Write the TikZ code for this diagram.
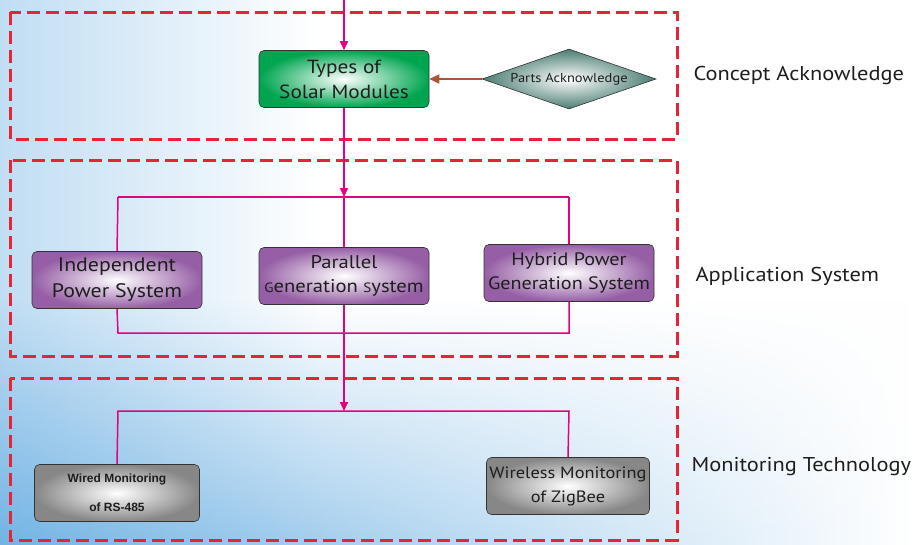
\documentclass[tikz,border=0pt]{standalone}
\usepackage{fontspec}
\setmainfont{PT Sans}[FakeStretch=1.12]
\newfontfamily\arialn{Liberation Sans}
\usetikzlibrary{shapes.geometric,arrows.meta,fadings}
\definecolor{dashred}{RGB}{230,35,55}
\definecolor{mag}{RGB}{228,0,127}
\definecolor{brn}{RGB}{170,85,55}
\definecolor{grn}{RGB}{0,165,80}
\definecolor{pur}{RGB}{150,95,165}
\definecolor{gry}{RGB}{135,135,135}
\definecolor{teal2}{RGB}{75,125,115}
\definecolor{bgblue}{RGB}{115,180,228}
\definecolor{txt}{RGB}{30,30,30}
\tikzset{
  grp/.style={draw=dashred, line width=3pt, dash pattern=on 13pt off 6pt},
  wire/.style={draw=mag, line width=1.5pt},
  arr/.style={wire, -{Triangle[length=9pt,width=8pt]}},
  boxbase/.style={draw=black!80, line width=0.6pt, rounded corners=5pt, minimum width=170pt, minimum height=57pt, align=center, inner sep=2pt, shading=radial, text=txt},
  gbox/.style={boxbase, inner color=white, outer color=grn, font=\fontsize{19}{25}\selectfont},
  pbox/.style={boxbase, inner color=white, outer color=pur},
  sbox/.style={boxbase, inner color=white, outer color=gry, minimum width=165pt},
  lab/.style={font=\fontsize{20}{24}\selectfont, anchor=west, text=txt},
}
\begin{document}
\begin{tikzpicture}[x=1pt,y=-1pt]
\useasboundingbox (0,0) rectangle (915,544);
% background
\fill[white] (0,0) rectangle (915,544);
\shade[left color=bgblue!45, right color=white] (0,0) rectangle (320,544);
\shade[left color=bgblue, right color=white, path fading=north] (0,300) rectangle (915,544);
% groups
\draw[grp] (10,12) rectangle (677,139);
\draw[grp] (10,160) rectangle (677,356);
\draw[grp] (10,378) rectangle (677,540);
% nodes
\node[gbox] (tsm) at (344,79) {Types of\\Solar Modules};
\node[diamond, draw=black!80, line width=0.6pt, shading=radial, inner color=white, outer color=teal2, minimum width=174pt, minimum height=60pt, aspect=2.9, inner sep=0pt, text=txt, font=\fontsize{12.9}{14}\selectfont] (pa) at (569,79) {Parts Acknowledge};
\node[pbox, font=\fontsize{19.5}{26}\selectfont] (ips) at (117,280) {Independent\\Power System};
\node[pbox, font=\fontsize{18.4}{24}\selectfont] (pgs) at (344,276) {Parallel\\{\fontsize{13.5}{14}\selectfont G}eneration {\fontsize{13.5}{14}\selectfont S}ystem};
\node[pbox, font=\fontsize{18}{24}\selectfont] (hpg) at (569,273) {Hybrid Power\\Generation System};
\node[sbox, font=\arialn\bfseries\fontsize{12}{29}\selectfont] (wm) at (117,493) {Wired Monitoring\\of RS-485};
\node[sbox, minimum width=163pt, font=\fontsize{16.4}{24}\selectfont] (wl) at (568,486) {Wireless Monitoring\\of ZigBee};
% coordinates
\coordinate (top) at (344,0);
\coordinate (b1) at (344,197);
\coordinate (b1l) at (118,197);
\coordinate (b1r) at (569,197);
\coordinate (b2l) at (118,333);
\coordinate (b2r) at (569,333);
\coordinate (b2c) at (344,333);
\coordinate (b3) at (344,411);
\coordinate (b3l) at (118,411);
\coordinate (b3r) at (569,411);
% connectors
\draw[arr] (top) -- (tsm.north);
\draw[-{Triangle[length=10pt,width=9pt]}, draw=brn, line width=1.6pt] (pa.west) -- (tsm.east);
\draw[wire] (b1l) -- (b1r);
\draw[arr] (tsm.south) -- (b1);
\draw[wire] (b1l) -- (ips.north);
\draw[wire] (b1) -- (pgs.north);
\draw[wire] (b1r) -- (hpg.north);
\draw[wire] (ips.south) -- (b2l) -- (b2r) -- (hpg.south);
\draw[wire] (pgs.south) -- (b2c);
\draw[arr] (b2c) -- (b3);
\draw[wire] (wm.north) -- (b3l) -- (b3r) -- (wl.north);
% labels
\node[lab] (l1) at (690,75) {Concept Acknowledge};
\node[lab] (l2) at (692,276) {Application System};
\node[lab] (l3) at (688,467) {Monitoring Technology};
\end{tikzpicture}
\end{document}
